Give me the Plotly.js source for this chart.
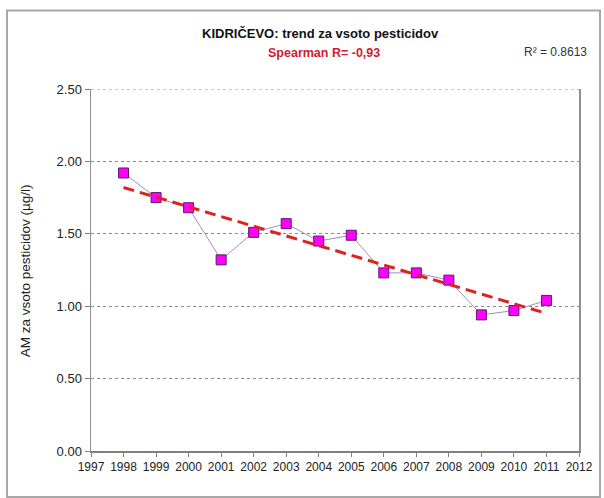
<!DOCTYPE html>
<html>
<head>
<meta charset="utf-8">
<script src="https://cdn.plot.ly/plotly-3.0.1.min.js"></script>
<style>html,body{margin:0;padding:0;background:#fff;}#chart{width:604px;height:498px;}</style>
</head>
<body>
<div id="chart"></div>
<script>
const years = [1998,1999,2000,2001,2002,2003,2004,2005,2006,2007,2008,2009,2010,2011];
const values = [1.92,1.75,1.68,1.32,1.51,1.57,1.45,1.49,1.23,1.23,1.18,0.94,0.97,1.04];
const trendYears = [1998, 2011];
const trendValues = [1.82, 0.95];
const xTicks = [1997,1998,1999,2000,2001,2002,2003,2004,2005,2006,2007,2008,2009,2010,2011,2012];
const yTicks = [0,0.5,1,1.5,2,2.5];
const titleText = "KIDRIČEVO: trend za vsoto pesticidov";
const subText = "Spearman R= -0,93";
const r2Text = "R² = 0.8613";
const yTitle = "AM za vsoto pesticidov (µg/l)";

const sans = "Liberation Sans, Arial, sans-serif";

const traces = [
  {
    x: years, y: values, type: 'scatter', mode: 'lines+markers',
    line: {color: '#9c8fc4', width: 1},
    marker: {symbol: 'square', size: 10, color: '#ff00ff', line: {color: '#5a1a6a', width: 1}},
    showlegend: false, hoverinfo: 'x+y'
  },
  {
    x: trendYears, y: trendValues, type: 'scatter', mode: 'lines',
    line: {color: '#dd2222', width: 3, dash: '11px,6px'},
    showlegend: false, hoverinfo: 'skip'
  }
];

const PL = 91, PR = 579, PT = 88.5, PB = 451;
const px = v => (v - PL) / (PR - PL);
const py = v => (PB - v) / (PB - PT);

const layout = {
  width: 604, height: 498,
  margin: {l: PL, r: 604 - PR, t: PT, b: 498 - PB},
  paper_bgcolor: '#ffffff', plot_bgcolor: '#ffffff',
  showlegend: false,
  xaxis: {
    range: [1997, 2012], tickmode: 'array', tickvals: xTicks, ticktext: xTicks.map(String),
    showgrid: false, zeroline: false, showline: true, linecolor: '#808080', linewidth: 1.5,
    ticks: 'outside', ticklen: 4, tickcolor: '#808080', tickwidth: 1,
    tickfont: {family: sans, size: 12, color: '#222'}, fixedrange: true
  },
  yaxis: {
    range: [0, 2.5], tickmode: 'array', tickvals: yTicks, ticktext: yTicks.map(v => v.toFixed(2)),
    showgrid: true, gridcolor: '#8a8a8a', griddash: 'dot', gridwidth: 1,
    zeroline: false, showline: true, mirror: true, linecolor: '#909090', linewidth: 1.5,
    ticks: 'outside', ticklen: 5, tickcolor: '#808080',
    tickfont: {family: sans, size: 13, color: '#222'},
    fixedrange: true
  },
  shapes: [
    {type: 'rect', xref: 'paper', yref: 'paper',
     x0: px(7), x1: px(600), y0: py(497), y1: py(10),
     line: {color: '#a8a8a8', width: 2}, fillcolor: 'rgba(0,0,0,0)', layer: 'below'},
    {type: 'line', xref: 'paper', yref: 'y', x0: 0, x1: 1, y0: 2.5, y1: 2.5,
     line: {color: '#8a8a8a', width: 1, dash: 'dot'}}
  ],
  annotations: [
    {text: '<b>' + titleText + '</b>', xref: 'paper', yref: 'paper',
     x: px(320), y: py(33), xanchor: 'center', yanchor: 'middle', showarrow: false,
     font: {family: sans, size: 13, color: '#111'}},
    {text: '<b>' + subText + '</b>', xref: 'paper', yref: 'paper',
     x: px(324), y: py(52), xanchor: 'center', yanchor: 'middle', showarrow: false,
     font: {family: sans, size: 12.5, color: '#cc2030'}},
    {text: r2Text, xref: 'paper', yref: 'paper',
     x: px(555), y: py(51), xanchor: 'center', yanchor: 'middle', showarrow: false,
     font: {family: sans, size: 12, color: '#333'}},
    {text: yTitle, xref: 'paper', yref: 'paper', textangle: -90,
     x: px(25), y: py(271), xanchor: 'center', yanchor: 'middle', showarrow: false,
     font: {family: sans, size: 13.5, color: '#222'}}
  ]
};
Plotly.newPlot('chart', traces, layout, {displayModeBar: false, staticPlot: true});
</script>
</body>
</html>
